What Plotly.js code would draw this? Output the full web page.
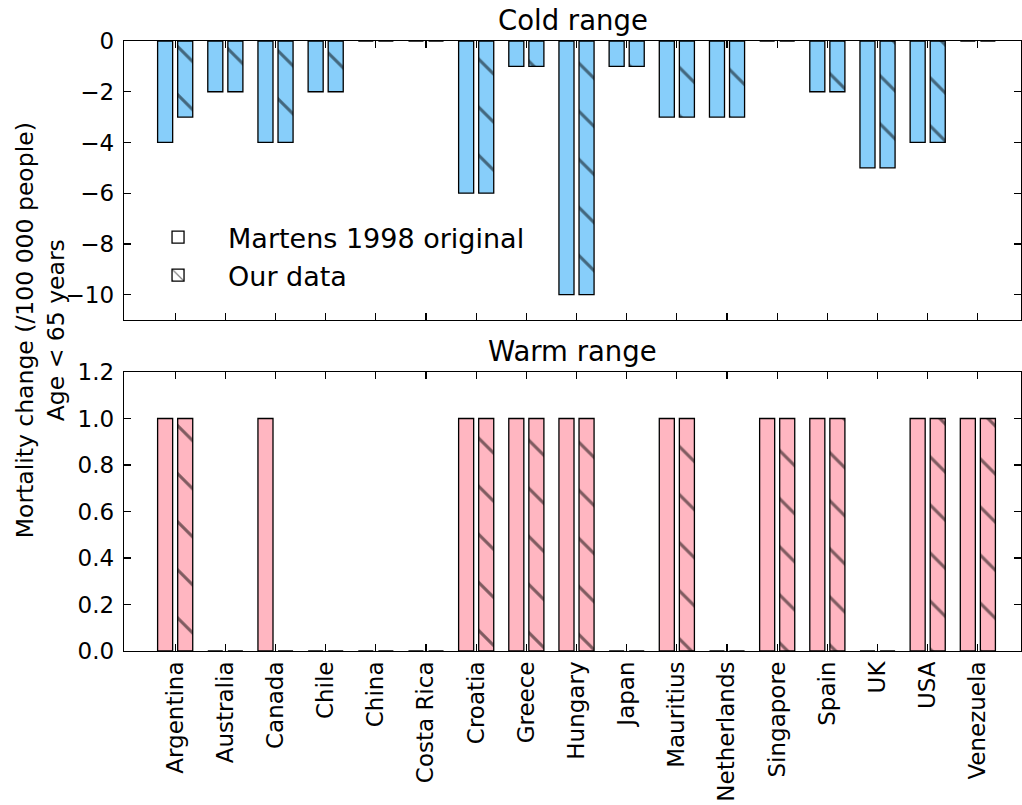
<!DOCTYPE html>
<html>
<head>
<meta charset="utf-8">
<script src="https://cdn.plot.ly/plotly-3.0.1.min.js"></script>
<style>html,body{margin:0;padding:0;background:#fff;}#chart{width:1022px;height:805px;}</style>
</head>
<body>
<div id="chart"></div>
<script>
const countries = ["Argentina","Australia","Canada","Chile","China","Costa Rica","Croatia","Greece","Hungary","Japan","Mauritius","Netherlands","Singapore","Spain","UK","USA","Venezuela"];
const coldOriginal = [-4,-2,-4,-2,0,0,-6,-1,-10,-1,-3,-3,0,-2,-5,-4,0];
const coldOurs     = [-3,-2,-4,-2,0,0,-6,-1,-10,-1,-3,-3,0,-2,-5,-4,0];
const warmOriginal = [1,0,1,0,0,0,1,1,1,0,1,0,1,1,0,1,1];
const warmOurs     = [1,0,0,0,0,0,1,1,1,0,1,0,1,1,0,1,1];
const seriesNames = ["Martens 1998 original","Our data"];
const yTitleLines = ["Mortality change (/100 000 people)","Age < 65 years"];

const FONT = "DejaVu Sans";
const BLUE = "#87CEFA", PINK = "#FFB6C1";
const hatch = {shape:"\\", fgcolor:"#000", size:34, solidity:0.09, fillmode:"overlay"};

function bar(y, color, hatched, xa, ya, name){
  const m = {color: color, line:{color:"#000", width:1.3}};
  if (hatched) m.pattern = Object.assign({bgcolor: color}, hatch);
  return {type:"bar", x:countries, y:y, width:0.3, offset: hatched ? 0.05 : -0.35,
    marker:m, xaxis:xa, yaxis:ya, showlegend:false, name:name, hoverinfo:"x+y"};
}

const data = [
  bar(coldOriginal, BLUE, false, "x2", "y2", seriesNames[0]),
  bar(coldOurs, BLUE, true, "x2", "y2", seriesNames[1]),
  bar(warmOriginal, PINK, false, "x", "y", seriesNames[0]),
  bar(warmOurs, PINK, true, "x", "y", seriesNames[1]),
  {type:"bar", x:[countries[0]], y:[null], name:seriesNames[0], xaxis:"x2", yaxis:"y2", showlegend:true,
    marker:{color:"#fff", line:{color:"#000", width:1.3}}},
  {type:"bar", x:[countries[0]], y:[null], name:seriesNames[1], xaxis:"x2", yaxis:"y2", showlegend:true,
    marker:{color:"#fff", line:{color:"#000", width:1.3},
      pattern:{shape:"\\", fgcolor:"#000", bgcolor:"#fff", size:10, solidity:0.15, fillmode:"overlay"}}}
];

const axCommon = {showline:true, mirror:"ticks", linecolor:"#000", linewidth:1.3,
  ticks:"inside", ticklen:7, tickwidth:1.2, tickcolor:"#000", showgrid:false, zeroline:false,
  tickfont:{family:FONT, size:23, color:"#000"}};
const xr = [-1.02, 16.86];

const layout = {
  width:1022, height:805,
  margin:{l:124, r:1, t:41, b:154},
  paper_bgcolor:"#fff", plot_bgcolor:"#fff",
  barmode:"overlay",
  font:{family:FONT, color:"#000"},
  xaxis: Object.assign({}, axCommon, {domain:[0,1], anchor:"y", type:"category", range:xr,
    tickangle:-90, categoryorder:"array", categoryarray:countries}),
  yaxis: Object.assign({}, axCommon, {domain:[0,0.4574], anchor:"x", range:[0,1.2],
    tickvals:[0,0.2,0.4,0.6,0.8,1.0,1.2], tickformat:".1f", ticklabelstandoff:4}),
  xaxis2: Object.assign({}, axCommon, {domain:[0,1], anchor:"y2", type:"category", range:xr,
    showticklabels:false, categoryorder:"array", categoryarray:countries}),
  yaxis2: Object.assign({}, axCommon, {domain:[0.5426,1], anchor:"x2", range:[-11,0],
    tickvals:[0,-2,-4,-6,-8,-10], ticklabelstandoff:4}),
  showlegend:true,
  legend:{x:0.0045, y:0.718, xanchor:"left", yanchor:"top", bgcolor:"rgba(0,0,0,0)", itemwidth:90,
    font:{family:FONT, size:27, color:"#000"}, tracegroupgap:0},
  annotations:[
    {text:"Cold range", xref:"paper", yref:"paper", x:0.5, y:1, xanchor:"center", yanchor:"bottom",
      yshift:3, showarrow:false, font:{family:FONT, size:27.5, color:"#000"}},
    {text:"Warm range", xref:"paper", yref:"paper", x:0.5, y:0.4574, xanchor:"center", yanchor:"bottom",
      yshift:3, showarrow:false, font:{family:FONT, size:27.5, color:"#000"}},
    {text:yTitleLines.join("<br>"), xref:"paper", yref:"paper", x:-0.0935, y:0.526,
      xanchor:"center", yanchor:"middle", textangle:-90, showarrow:false,
      font:{family:FONT, size:23.5, color:"#000"}}
  ]
};

Plotly.newPlot("chart", data, layout, {displayModeBar:false, staticPlot:true});
</script>
</body>
</html>
